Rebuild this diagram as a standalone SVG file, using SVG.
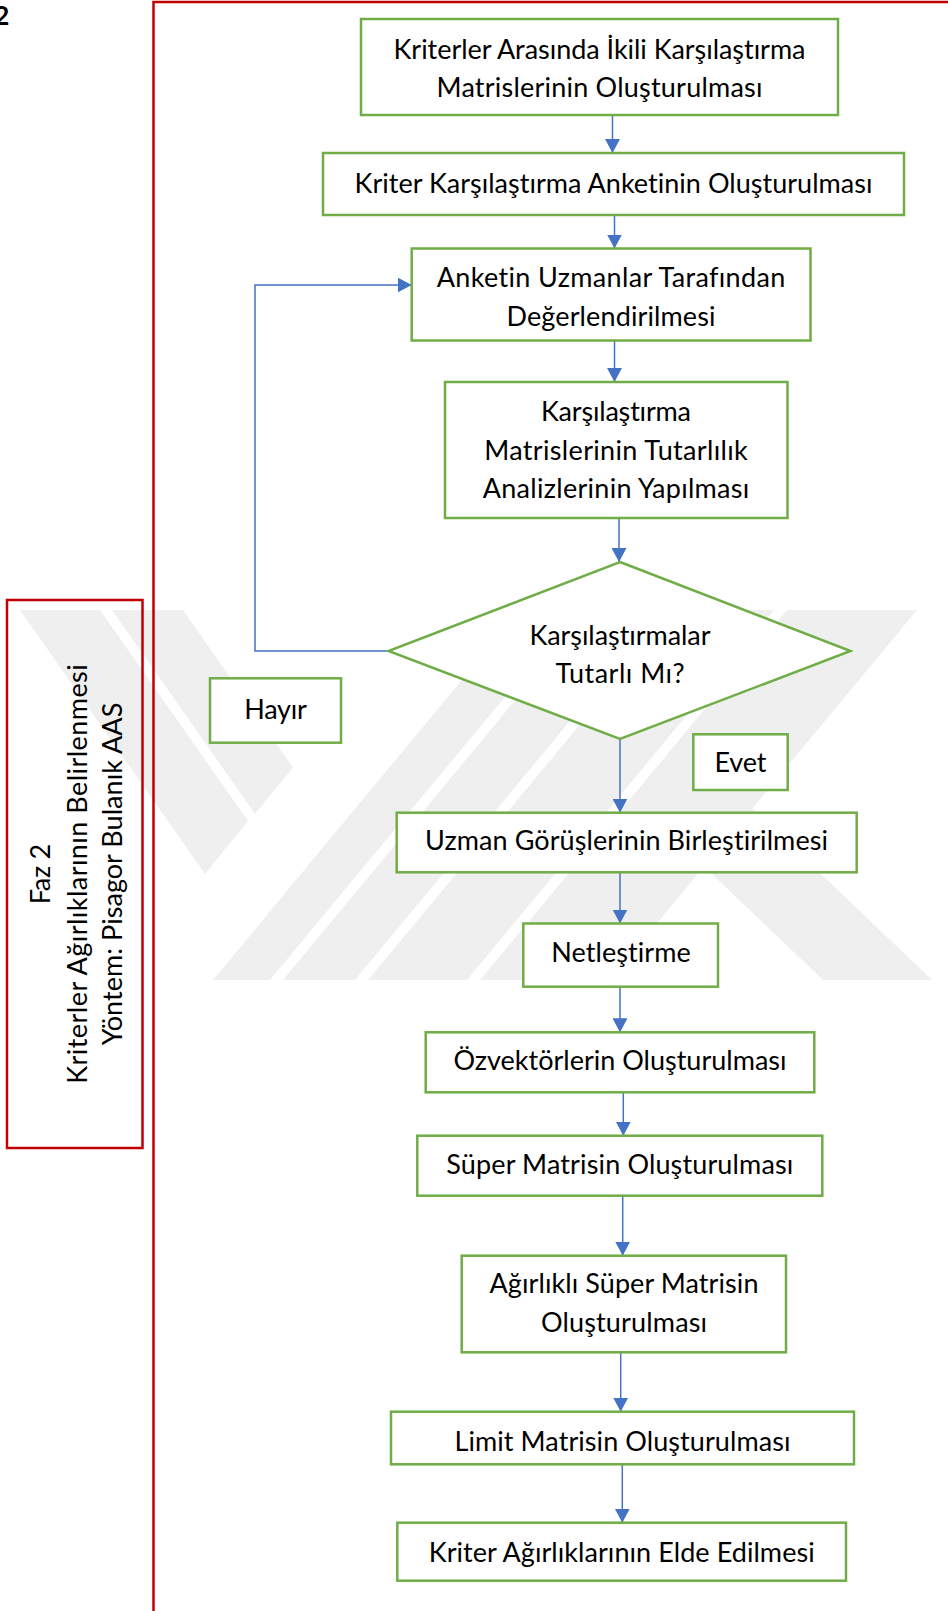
<svg xmlns="http://www.w3.org/2000/svg" width="948" height="1611" viewBox="0 0 948 1611">
  <defs>
    <style>
      .box { fill: #ffffff; stroke: #70AD47; stroke-width: 2.5; }
      .frame { fill: none; stroke: #C00000; stroke-width: 2.5; }
      .t { font-family: Lato, "Liberation Sans", sans-serif; font-size: 27px; fill: #000000; text-anchor: middle; font-variant-ligatures: none; font-feature-settings: "liga" 0, "clig" 0; }
      .conn { fill: none; stroke: #4472C4; stroke-width: 1.5; }
      .wm { fill: #efefef; }
    </style>
    <marker id="arrow" viewBox="0 0 14 15" refX="14" refY="7.5" markerWidth="14" markerHeight="15" markerUnits="userSpaceOnUse" orient="auto">
      <path d="M0,0 L14,7.5 L0,15 z" fill="#4472C4"/>
    </marker>
  </defs>

  <rect width="948" height="1611" fill="#ffffff"/>

  <!-- faint background emblem: diagonal stripes -->
  <g id="background-emblem">
    <polygon class="wm" points="20,610 100,610 248,821 205,874"/>
    <polygon class="wm" points="112,610 183,610 293,767.5 255,814"/>
    <polygon class="wm" points="213,980 270,980 577,610 520,610"/>
    <polygon class="wm" points="283,980 355,980 662,610 590,610"/>
    <polygon class="wm" points="368,980 467,980 774,610 675,610"/>
    <polygon class="wm" points="480,980 610,980 917,610 787,610"/>
    <polygon class="wm" points="752,808 932,980 823,980 704,866.5"/>
  </g>

  <!-- page number fragment at the top-left edge -->
  <text class="t" x="9.5" y="25" style="text-anchor:end;font-weight:bold">2</text>

  <!-- phase frame -->
  <path id="phase-frame" class="frame" d="M153.5,1615 V2 H952"/>

  <!-- phase label -->
  <g id="phase-label">
    <rect class="frame" x="7" y="600" width="135.5" height="548"/>
    <text class="t" transform="translate(50,874) rotate(-90)" textLength="60.6">Faz 2</text>
    <text class="t" transform="translate(86.5,874) rotate(-90)" textLength="419.5">Kriterler Ağırlıklarının Belirlenmesi</text>
    <text class="t" transform="translate(122,874) rotate(-90)" textLength="342.7">Yöntem: Pisagor Bulanık AAS</text>
  </g>

  <!-- connectors -->
  <g id="connectors">
    <path class="conn" d="M612.5,115 V153" marker-end="url(#arrow)"/>
    <path class="conn" d="M614.5,215 V248.5" marker-end="url(#arrow)"/>
    <path class="conn" d="M614.5,340.5 V382" marker-end="url(#arrow)"/>
    <path class="conn" d="M619,518 V562" marker-end="url(#arrow)"/>
    <path class="conn" d="M388.5,651 H255 V285 H411.7" marker-end="url(#arrow)"/>
    <path class="conn" d="M620,739 V812.7" marker-end="url(#arrow)"/>
    <path class="conn" d="M620,872.3 V923.5" marker-end="url(#arrow)"/>
    <path class="conn" d="M620,986.7 V1032.3" marker-end="url(#arrow)"/>
    <path class="conn" d="M623.3,1092.3 V1135.7" marker-end="url(#arrow)"/>
    <path class="conn" d="M622.7,1195.7 V1255.7" marker-end="url(#arrow)"/>
    <path class="conn" d="M620.7,1352.3 V1411.7" marker-end="url(#arrow)"/>
    <path class="conn" d="M622.3,1464.3 V1522.7" marker-end="url(#arrow)"/>
  </g>

  <g id="n1">
    <rect class="box" x="361" y="19" width="477" height="96"/>
    <text class="t" x="599.5" y="58.5" textLength="412">Kriterler Arasında İkili Karşılaştırma</text>
    <text class="t" x="599.5" y="97" textLength="326">Matrislerinin Oluşturulması</text>
  </g>

  <g id="n2">
    <rect class="box" x="323" y="153" width="581" height="62"/>
    <text class="t" x="613.5" y="192.7" textLength="518">Kriter Karşılaştırma Anketinin Oluşturulması</text>
  </g>

  <g id="n3">
    <rect class="box" x="411.7" y="248.5" width="398.8" height="92"/>
    <text class="t" x="611" y="287.3" textLength="348.5">Anketin Uzmanlar Tarafından</text>
    <text class="t" x="611" y="325.5" textLength="209">Değerlendirilmesi</text>
  </g>

  <g id="n4">
    <rect class="box" x="445" y="382" width="342.5" height="136"/>
    <text class="t" x="616" y="420.7" textLength="150">Karşılaştırma</text>
    <text class="t" x="616" y="460" textLength="263.5">Matrislerinin Tutarlılık</text>
    <text class="t" x="616" y="498.3" textLength="266.5">Analizlerinin Yapılması</text>
  </g>

  <g id="decision">
    <polygon class="box" points="620,562 850.5,651 620,739 388.5,651"/>
    <text class="t" x="620" y="645" textLength="181">Karşılaştırmalar</text>
    <text class="t" x="620" y="683.3" textLength="129.2">Tutarlı Mı?</text>
  </g>

  <g id="label-no">
    <rect class="box" x="210" y="678.3" width="131" height="64.4"/>
    <text class="t" x="275.5" y="718.5" textLength="62.6">Hayır</text>
  </g>

  <g id="label-yes">
    <rect class="box" x="693.3" y="734.3" width="94.4" height="55.7"/>
    <text class="t" x="740.5" y="772.3" textLength="52">Evet</text>
  </g>

  <g id="n5">
    <rect class="box" x="396.7" y="812.7" width="460" height="59.6"/>
    <text class="t" x="626.5" y="850" textLength="403">Uzman Görüşlerinin Birleştirilmesi</text>
  </g>

  <g id="n6">
    <rect class="box" x="523.3" y="923.5" width="194.7" height="63.2"/>
    <text class="t" x="621" y="961.7" textLength="139.5">Netleştirme</text>
  </g>

  <g id="n7">
    <rect class="box" x="425.7" y="1032.3" width="388.6" height="60"/>
    <text class="t" x="620" y="1070" textLength="333">Özvektörlerin Oluşturulması</text>
  </g>

  <g id="n8">
    <rect class="box" x="417.3" y="1135.7" width="405" height="60"/>
    <text class="t" x="619.8" y="1174.3" textLength="347">Süper Matrisin Oluşturulması</text>
  </g>

  <g id="n9">
    <rect class="box" x="461.7" y="1255.7" width="324.3" height="96.6"/>
    <text class="t" x="624" y="1293.3" textLength="269">Ağırlıklı Süper Matrisin</text>
    <text class="t" x="624" y="1331.7" textLength="166.2">Oluşturulması</text>
  </g>

  <g id="n10">
    <rect class="box" x="391" y="1411.7" width="463" height="52.6"/>
    <text class="t" x="622.5" y="1450.5" textLength="336">Limit Matrisin Oluşturulması</text>
  </g>

  <g id="n11">
    <rect class="box" x="397.3" y="1522.7" width="448.7" height="58"/>
    <text class="t" x="621.7" y="1561.7" textLength="386">Kriter Ağırlıklarının Elde Edilmesi</text>
  </g>
</svg>
